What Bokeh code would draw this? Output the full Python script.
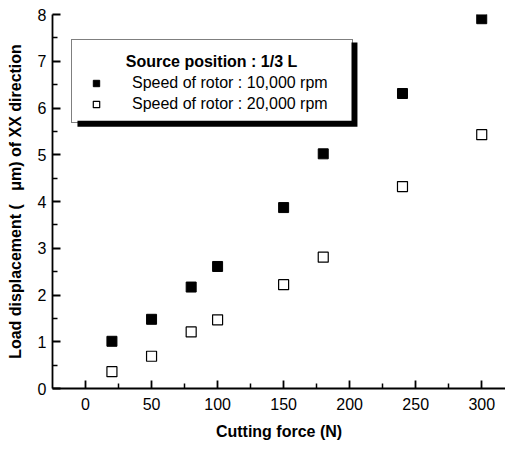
from bokeh.plotting import figure
from bokeh.models import Range1d, FixedTicker, Legend, LegendItem, Label, BoxAnnotation
from bokeh.embed import file_html
from bokeh.resources import INLINE

force = [20, 50, 80, 100, 150, 180, 240, 300]
disp_10000 = [1.01, 1.48, 2.17, 2.61, 3.87, 5.02, 6.31, 7.91]
disp_20000 = [0.36, 0.69, 1.21, 1.47, 2.22, 2.81, 4.32, 5.43]
x_ticks = [0, 50, 100, 150, 200, 250, 300]
x_minor = [25, 75, 125, 175, 225, 275]
y_ticks = [0, 1, 2, 3, 4, 5, 6, 7, 8]
y_minor = [0.5, 1.5, 2.5, 3.5, 4.5, 5.5, 6.5, 7.5]
legend_title = "Source position : 1/3 L"
series_labels = ["Speed of rotor : 10,000 rpm", "Speed of rotor : 20,000 rpm"]
x_title = "Cutting force (N)"
y_title = "Load displacement (\u00a0\u00a0\u00a0\u03bcm) of XX direction"

FONT = "Liberation Sans"

p = figure(width=505, height=442, output_backend="svg", toolbar_location=None,
           x_range=Range1d(-25, 318), y_range=Range1d(0, 8),
           min_border_left=52, min_border_right=0, min_border_top=14, min_border_bottom=54)
p.outline_line_color = None
p.grid.visible = False
p.background_fill_color = "white"

p.xaxis.ticker = FixedTicker(ticks=x_ticks, minor_ticks=x_minor)
p.yaxis.ticker = FixedTicker(ticks=y_ticks, minor_ticks=y_minor)
for ax in (p.xaxis[0], p.yaxis[0]):
    ax.axis_line_width = 1.8
    ax.axis_line_color = "black"
    ax.major_tick_line_width = 1.8
    ax.major_tick_line_color = "black"
    ax.minor_tick_line_width = 1.5
    ax.minor_tick_line_color = "black"
    ax.major_tick_in = 8
    ax.major_tick_out = 0
    ax.minor_tick_in = 5
    ax.minor_tick_out = 0
    ax.major_label_text_font = FONT
    ax.major_label_text_font_size = "16px"
    ax.major_label_text_color = "black"
    ax.axis_label_text_font = FONT
    ax.axis_label_text_font_size = "16px"
    ax.axis_label_text_font_style = "bold"
    ax.axis_label_text_color = "black"

p.xaxis.axis_label = x_title
p.yaxis.axis_label = y_title
p.xaxis.major_label_standoff = 9
p.xaxis.axis_label_standoff = 10
p.yaxis.major_label_standoff = 6
p.yaxis.axis_label_standoff = 11

r1 = p.scatter(force, disp_10000, marker="square", size=10,
               fill_color="black", line_color="black")
r2 = p.scatter(force, disp_20000, marker="square", size=10,
               fill_color="white", line_color="black", line_width=1.2)

# drop shadow and white panel of the legend box (legend itself drawn transparent on top)
shadow = BoxAnnotation(left=-6.1, right=205.9, top=7.40, bottom=5.60,
                       fill_color="black", fill_alpha=1, line_color=None)
p.add_layout(shadow)
panel = BoxAnnotation(left=-10.6, right=201.4, top=7.485, bottom=5.725,
                      fill_color="white", fill_alpha=1, line_color=None)
p.add_layout(panel)

title_lbl = Label(x=95.4, y=6.99, text=legend_title, text_align="center",
                  text_baseline="middle", text_font=FONT, text_font_size="16px",
                  text_font_style="bold", text_color="black", level="overlay")
p.add_layout(title_lbl)

legend = Legend(items=[LegendItem(label=series_labels[0], renderers=[r1]),
                       LegendItem(label=series_labels[1], renderers=[r2])],
                location=(19, 265), padding=8, spacing=0,
                label_height=21, glyph_height=16, glyph_width=32,
                label_standoff=20, label_width=212,
                title=" ", title_text_font_size="16px", title_standoff=6,
                border_line_color="black", border_line_width=1.5,
                background_fill_alpha=0,
                label_text_font=FONT, label_text_font_size="16px",
                label_text_color="black")
p.add_layout(legend)

open("out.html", "w").write(file_html(p, INLINE))
